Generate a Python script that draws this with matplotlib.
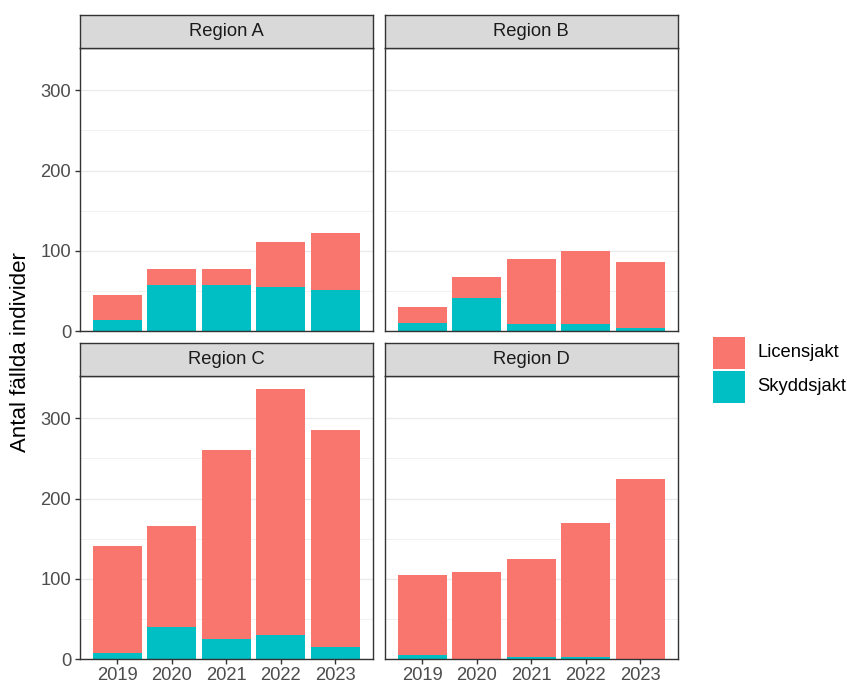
import matplotlib
matplotlib.use("Agg")
import matplotlib.pyplot as plt
from matplotlib.patches import Rectangle
import numpy as np

plt.rcParams['font.family'] = ['Liberation Sans', 'DejaVu Sans']

years = ["2019", "2020", "2021", "2022", "2023"]
regions = ["Region A", "Region B", "Region C", "Region D"]

# Totals per region and year, and the protective-hunt part of them
total = {
    "Region A": [45, 77, 77, 111, 122],
    "Region B": [30, 67, 90, 100, 86],
    "Region C": [141, 166, 260, 336, 286],
    "Region D": [105, 108, 125, 170, 225],
}
skyddsjakt = {
    "Region A": [14, 57, 57, 55, 51],
    "Region B": [10, 41, 9, 9, 4],
    "Region C": [7, 40, 25, 30, 15],
    "Region D": [5, 0, 3, 3, 0],
}
licensjakt = {r: [t - s for t, s in zip(total[r], skyddsjakt[r])] for r in regions}

col_lic = "#F8766D"
col_sky = "#00BFC4"
series = ["Licensjakt", "Skyddsjakt"]

W, H = 847, 683
fig = plt.figure(figsize=(W / 100, H / 100), dpi=100)

def fx(px):
    return px / W

def fy(py):
    return 1 - py / H

# panel boxes in pixel coordinates: (left, right, strip_top, strip_bottom, panel_bottom)
boxes = {
    "Region A": (79.5, 373, 15, 48, 331),
    "Region B": (384.5, 678, 15, 48, 331),
    "Region C": (79.5, 373, 343, 376, 659),
    "Region D": (384.5, 678, 343, 376, 659),
}

ymax = max(max(v) for v in total.values()) * 1.05
bar_w = 0.9
xpad = 0.5 * bar_w + 0.05 * (len(years) - 1 + bar_w)
border_c = "#333333"
tick_fs = 13.2

for r in regions:
    l, rr, st, sb, pb = boxes[r]
    ax = fig.add_axes([fx(l), fy(pb), fx(rr - l), (pb - sb) / H])
    x = np.arange(len(years))
    ax.set_axisbelow(True)
    ax.bar(x, licensjakt[r], bottom=skyddsjakt[r], width=bar_w, color=col_lic, linewidth=0)
    ax.bar(x, skyddsjakt[r], width=bar_w, color=col_sky, linewidth=0)
    ax.set_xlim(-xpad, len(years) - 1 + xpad)
    ax.set_ylim(0, ymax)
    ax.set_yticks([0, 100, 200, 300])
    ax.set_yticks([50, 150, 250], minor=True)
    ax.grid(True, which="major", axis="y", color="#EBEBEB", linewidth=1.0)
    ax.grid(True, which="minor", axis="y", color="#EBEBEB", linewidth=0.5)
    ax.grid(False, axis="x")
    for s in ax.spines.values():
        s.set_color(border_c)
        s.set_linewidth(1.0)
    ax.tick_params(axis="both", which="major", length=3.6, width=1.0, color=border_c,
                   labelsize=tick_fs, labelcolor="#4D4D4D", pad=2.5)
    ax.tick_params(axis="y", which="minor", length=0)
    ax.set_xticks(x)
    if r in ("Region A", "Region C"):
        ax.set_yticklabels(["0", "100", "200", "300"])
    else:
        ax.set_yticklabels([])
        ax.tick_params(axis="y", which="major", length=0)
    if r in ("Region C", "Region D"):
        ax.set_xticklabels(years)
    else:
        ax.set_xticklabels([])
        ax.tick_params(axis="x", length=0)

    # facet strip
    sax = fig.add_axes([fx(l), fy(sb), fx(rr - l), (sb - st) / H])
    sax.set_facecolor("#D9D9D9")
    sax.set_xticks([])
    sax.set_yticks([])
    for s in sax.spines.values():
        s.set_color(border_c)
        s.set_linewidth(1.0)
    sax.text(0.5, 0.5, r, ha="center", va="center", fontsize=tick_fs, color="#1A1A1A",
             transform=sax.transAxes)

fig.text(fx(21), fy(352), "Antal fällda individer", rotation=90, ha="center", va="center",
         fontsize=16.0, color="black")

# legend
keys = [(336.5, col_lic, series[0]), (370.5, col_sky, series[1])]
for top, c, lab in keys:
    fig.patches.append(Rectangle((fx(713), fy(top + 32)), fx(32), 32 / H, facecolor=c,
                                 edgecolor="none", transform=fig.transFigure, figure=fig))
    fig.text(fx(757), fy(top + 16), lab, ha="left", va="center", fontsize=tick_fs, color="black")

fig.savefig("out.png", dpi=100)
